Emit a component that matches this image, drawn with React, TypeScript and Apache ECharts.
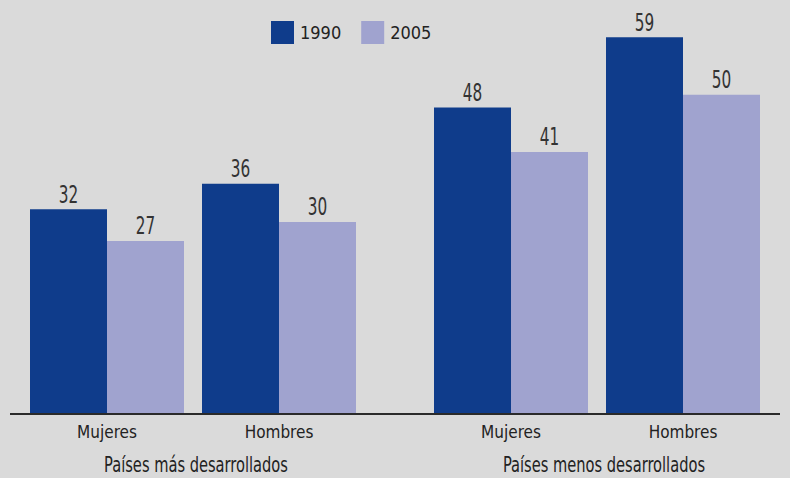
import React, { useEffect, useRef } from "react";
import * as echarts from "echarts";

const categories = ["Mujeres", "Hombres"];
const groupNames = ["Países más desarrollados", "Países menos desarrollados"];
const seriesNames = ["1990", "2005"];
const mas1990 = [32, 36];
const mas2005 = [27, 30];
const menos1990 = [48, 59];
const menos2005 = [41, 50];

const DARK = "#0f3c8b";
const LIGHT = "#a0a3cf";
const FONT = "'DejaVu Sans Condensed', 'DejaVu Sans', sans-serif";
const BAR_W = 77;

export default function App() {
  const ref = useRef<HTMLDivElement>(null);
  useEffect(() => {
    if (!ref.current) return;
    const chart = echarts.init(ref.current, null, { renderer: "svg" });
    const xAxisCommon = {
      type: "category",
      data: categories,
      axisLine: { show: false },
      axisTick: { show: false },
      axisLabel: { fontSize: 17, color: "#222", fontFamily: FONT, margin: 10 },
    };
    const yAxisCommon = { type: "value", min: 0, max: 60, show: false };
    const bar = (name: string, idx: number, data: number[], color: string) => ({
      name,
      type: "bar",
      xAxisIndex: idx,
      yAxisIndex: idx,
      data,
      barWidth: BAR_W,
      barGap: "0%",
      itemStyle: { color },
    });
    const labels = (idx: number, data: number[], offset: number) => ({
      type: "custom",
      xAxisIndex: idx,
      yAxisIndex: idx,
      silent: true,
      z: 5,
      data: data.map((v, i) => [i, v]),
      renderItem: (_params: any, api: any) => {
        const p = api.coord([api.value(0), api.value(1)]);
        return {
          type: "text",
          x: p[0] + offset,
          y: p[1] - 3,
          scaleX: 0.68,
          style: {
            text: String(api.value(1)),
            fontSize: 25,
            fontFamily: FONT,
            fill: "#333",
            align: "center",
            verticalAlign: "bottom",
          },
        };
      },
    });
    chart.setOption({
      animation: false,
      backgroundColor: "#dadada",
      textStyle: { fontFamily: FONT },
      legend: {
        data: seriesNames,
        left: 266,
        top: 16,
        itemWidth: 23,
        itemHeight: 23,
        itemGap: 20,
        icon: "rect",
        textStyle: { fontSize: 18, color: "#222", fontFamily: FONT, padding: [0, 0, 0, 1] },
      },
      grid: [
        { left: 21, width: 344, top: 31, height: 382 },
        { left: 425, width: 344, top: 31, height: 382 },
      ],
      xAxis: [
        { ...xAxisCommon, gridIndex: 0 },
        { ...xAxisCommon, gridIndex: 1 },
      ],
      yAxis: [
        { ...yAxisCommon, gridIndex: 0 },
        { ...yAxisCommon, gridIndex: 1 },
      ],
      series: [
        bar(seriesNames[0], 0, mas1990, DARK),
        bar(seriesNames[1], 0, mas2005, LIGHT),
        bar(seriesNames[0], 1, menos1990, DARK),
        bar(seriesNames[1], 1, menos2005, LIGHT),
        labels(0, mas1990, -BAR_W / 2),
        labels(0, mas2005, BAR_W / 2),
        labels(1, menos1990, -BAR_W / 2),
        labels(1, menos2005, BAR_W / 2),
      ],
      graphic: [
        {
          type: "line",
          shape: { x1: 10, y1: 414, x2: 780, y2: 414 },
          style: { stroke: "#2a2a2a", lineWidth: 2 },
          z: 10,
        },
        {
          type: "text",
          x: 196,
          y: 465,
          scaleX: 0.74,
          style: { text: groupNames[0], fontSize: 22, fill: "#222", fontFamily: FONT, align: "center", verticalAlign: "middle" },
        },
        {
          type: "text",
          x: 604,
          y: 465,
          scaleX: 0.74,
          style: { text: groupNames[1], fontSize: 22, fill: "#222", fontFamily: FONT, align: "center", verticalAlign: "middle" },
        },
      ],
    });
    return () => chart.dispose();
  }, []);
  return <div ref={ref} style={{ position: "fixed", left: 0, top: 0, width: 790, height: 478 }} />;
}
